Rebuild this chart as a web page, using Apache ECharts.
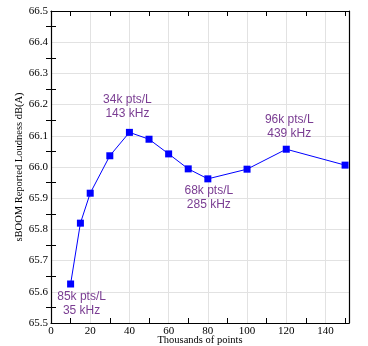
<!DOCTYPE html>
<html>
<head>
<meta charset="utf-8">
<script src="https://cdn.jsdelivr.net/npm/echarts@6/dist/echarts.min.js"></script>
<style>
  html, body { margin: 0; padding: 0; background: #fff; }
  #chart { width: 368px; height: 346px; }
</style>
</head>
<body>
<div id="chart"></div>
<script>
// Sample counts (thousands of points) and reported loudness
const points = [10, 15, 20, 30, 40, 50, 60, 70, 80, 100, 120, 150];
const loudness = [65.625, 65.82, 65.916, 66.036, 66.111, 66.089, 66.042, 65.994, 65.962, 65.993, 66.057, 66.006];

// Annotated samples: index into the series and the two text lines
const noteIndex = [0, 4, 8, 10];
const noteDensity = ['85k pts/L', '34k pts/L', '68k pts/L', '96k pts/L'];
const noteRate = ['35 kHz', '143 kHz', '285 kHz', '439 kHz'];

// Axis ranges
const xMin = 0, xMax = 152, xStep = 20;
const yMin = 65.5, yMax = 66.5, yStep = 0.1;

// Tick positions between labelled values (categories for the minor tick axes)
const xTickCats = [];
for (let v = xMin; v <= xMax; v++) xTickCats.push(String(v));
const yTickCats = [];
for (let i = 0; i <= 20; i++) yTickCats.push((yMin + i * 0.05).toFixed(2));

const noteOffsets = [[11, 20], [-2, -26], [1, 19], [3, -23]];

const serif = 'Liberation Serif';
const sans = 'Liberation Sans';

const seriesData = points.map((x, i) => {
  const item = { value: [x, loudness[i]] };
  const k = noteIndex.indexOf(i);
  if (k >= 0) {
    item.label = {
      show: true,
      position: 'inside',
      offset: noteOffsets[k],
      formatter: noteDensity[k] + '\n' + noteRate[k],
      color: '#7a3d92',
      fontFamily: sans,
      fontSize: 12,
      lineHeight: 14,
      align: 'center',
      verticalAlign: 'middle'
    };
  }
  return item;
});

const black = '#000';
const frameLine = { show: true, onZero: false, lineStyle: { color: black, width: 1.2 } };
const minorTickAxis = (pos, cats, pick) => ({
  type: 'category',
  position: pos,
  data: cats,
  boundaryGap: false,
  axisLine: { show: false },
  axisLabel: { show: false },
  splitLine: { show: false },
  axisTick: {
    show: true,
    inside: true,
    length: 5,
    interval: pick,
    lineStyle: { color: black, width: 1 }
  }
});
const pickX = (i, v) => Number(v) % 20 === 10;
const pickY = (i) => i % 2 === 1;

const chart = echarts.init(document.getElementById('chart'), null, { renderer: 'canvas' });
chart.setOption({
  animation: false,
  backgroundColor: '#fff',
  grid: { left: 51, right: 19, top: 11, bottom: 23, containLabel: false, outerBoundsMode: 'none' },
  xAxis: [
    {
      type: 'value',
      position: 'bottom',
      min: xMin, max: xMax, interval: xStep,
      name: 'Thousands of points',
      nameLocation: 'middle',
      nameGap: 12,
      nameMoveOverlap: false,
      nameTextStyle: { fontFamily: serif, fontSize: 10.5, color: black },
      axisLine: frameLine,
      axisTick: { show: false },
      axisLabel: {
        color: black, fontFamily: serif, fontSize: 11, margin: 3,
        formatter: v => (v % xStep === 0 ? String(v) : '')
      },
      splitLine: { show: true, lineStyle: { color: '#e2e2e2', width: 1 } }
    },
    {
      type: 'value',
      position: 'top',
      min: xMin, max: xMax, interval: xStep,
      axisLine: frameLine,
      axisTick: { show: false },
      axisLabel: { show: false },
      splitLine: { show: false }
    },
    minorTickAxis('bottom', xTickCats, pickX),
    minorTickAxis('top', xTickCats, pickX)
  ],
  yAxis: [
    {
      type: 'value',
      position: 'left',
      min: yMin, max: yMax, interval: yStep,
      name: 'sBOOM Reported Loudness dB(A)',
      nameLocation: 'middle',
      nameGap: 26,
      nameMoveOverlap: false,
      nameTextStyle: { fontFamily: serif, fontSize: 10.5, color: black },
      axisLine: frameLine,
      axisTick: { show: false },
      axisLabel: {
        color: black, fontFamily: serif, fontSize: 11, margin: 3,
        formatter: v => v.toFixed(1)
      },
      splitLine: { show: true, lineStyle: { color: '#e2e2e2', width: 1 } }
    },
    {
      type: 'value',
      position: 'right',
      min: yMin, max: yMax, interval: yStep,
      axisLine: frameLine,
      axisTick: { show: false },
      axisLabel: { show: false },
      splitLine: { show: false }
    },
    minorTickAxis('left', yTickCats, pickY),
    minorTickAxis('right', yTickCats, pickY)
  ],
  series: [
    {
      type: 'line',
      xAxisIndex: 0,
      yAxisIndex: 0,
      data: seriesData,
      symbol: 'rect',
      symbolSize: 7,
      lineStyle: { color: '#0000ff', width: 1 },
      itemStyle: { color: '#0000ff' },
      label: { show: false },
      clip: false,
      z: 5
    }
  ]
});
</script>
</body>
</html>
